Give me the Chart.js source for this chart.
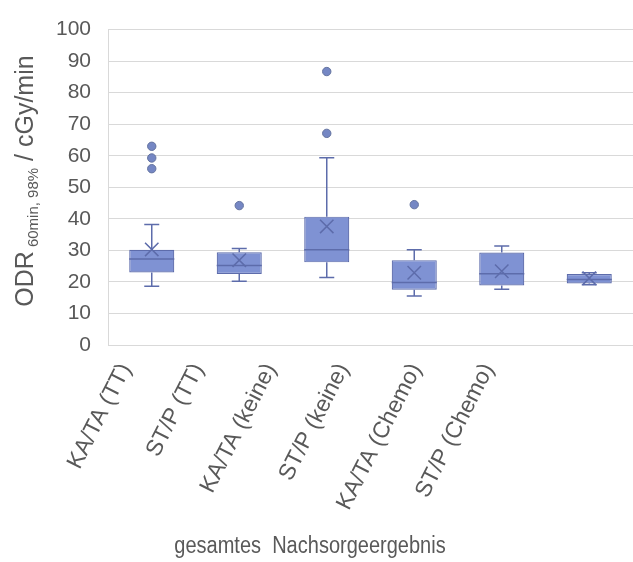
<!DOCTYPE html>
<html>
<head>
<meta charset="utf-8">
<script src="https://cdn.jsdelivr.net/npm/chart.js@4.4.1/dist/chart.umd.min.js"></script>
<style>
  html, body { margin: 0; padding: 0; background: #ffffff; overflow: hidden; width: 633px; height: 562px; }
  canvas { display: block; }
</style>
</head>
<body>
<canvas id="chart" width="644" height="562"></canvas>
<script>
// Box-plot statistics per follow-up group (ODR in cGy/min)
const categories   = ['KA/TA (TT)', 'ST/P (TT)', 'KA/TA (keine)', 'ST/P (keine)', 'KA/TA (Chemo)', 'ST/P (Chemo)'];
const whiskerLow   = [18.6, 20.2, 21.4, 15.5, 17.7, 19.1];
const q1           = [23.0, 22.5, 26.2, 17.5, 18.9, 19.5];
const median       = [27.3, 25.2, 30.2, 19.8, 22.6, 20.8];
const q3           = [30.2, 29.4, 40.7, 26.9, 29.3, 22.5];
const whiskerHigh  = [38.2, 30.6, 59.4, 30.2, 31.4, 22.9];
const mean         = [30.3, 26.9, 37.6, 22.9, 23.4, 21.2];
const outliers     = [[63.0, 59.3, 55.9], [44.2], [86.7, 67.1], [44.5], [], []];

const yMin = 0, yMax = 100, yStep = 10;
const xTitle = 'gesamtes  Nachsorgeergebnis';
const yTitleMain = 'ODR';
const yTitleSub = '60min, 98%';
const yTitleUnit = ' / cGy/min';

const textColor = '#595959';
const boxFill = '#7f92d3';
const lineColor = '#5d6cab';
const fontFamily = '"Liberation Sans", Arial, sans-serif';

const boxData = categories.map((c, i) => [q1[i], q3[i]]);
const meanData = categories.map((c, i) => ({ x: c, y: mean[i] }));
const outlierData = [];
categories.forEach((c, i) => outliers[i].forEach(v => outlierData.push({ x: c, y: v })));

// Whiskers and median lines, drawn over the boxes
const boxLines = {
  id: 'boxLines',
  afterDatasetDraw(chart, args) {
    if (args.index !== 0) return;
    const { ctx, scales: { x, y } } = chart;
    const meta = chart.getDatasetMeta(0);
    ctx.save();
    ctx.strokeStyle = lineColor;
    ctx.lineWidth = 1.5;
    categories.forEach((c, i) => {
      const cx = x.getPixelForValue(i);
      const half = meta.data[i].width / 2;
      const cap = 7.5;
      const yMed = y.getPixelForValue(median[i]);
      const yQ1 = y.getPixelForValue(q1[i]);
      const yQ3 = y.getPixelForValue(q3[i]);
      const yLo = y.getPixelForValue(whiskerLow[i]);
      const yHi = y.getPixelForValue(whiskerHigh[i]);
      ctx.beginPath();
      ctx.moveTo(cx - half, yMed); ctx.lineTo(cx + half, yMed);
      ctx.moveTo(cx, yQ3); ctx.lineTo(cx, yHi);
      ctx.moveTo(cx - cap, yHi); ctx.lineTo(cx + cap, yHi);
      ctx.moveTo(cx, yQ1); ctx.lineTo(cx, yLo);
      ctx.moveTo(cx - cap, yLo); ctx.lineTo(cx + cap, yLo);
      ctx.stroke();
    });
    ctx.restore();
  }
};

// Axis titles: rotated y title with subscript, condensed x title
const axisTitles = {
  id: 'axisTitles',
  afterDraw(chart) {
    const { ctx } = chart;
    const big = '25px ' + fontFamily;
    const small = '15px ' + fontFamily;
    ctx.save();
    ctx.fillStyle = textColor;
    ctx.textAlign = 'left';
    ctx.textBaseline = 'alphabetic';
    ctx.font = big;
    const wMain = ctx.measureText(yTitleMain).width;
    const wUnit = ctx.measureText(yTitleUnit).width;
    ctx.font = small;
    const gap = 4;
    const wSub = ctx.measureText(yTitleSub).width;
    const total = wMain + gap + wSub + wUnit;
    ctx.translate(33, 181);
    ctx.rotate(-Math.PI / 2);
    let px = -total / 2;
    ctx.font = big;
    ctx.fillText(yTitleMain, px, 0);
    px += wMain + gap;
    ctx.font = small;
    ctx.fillText(yTitleSub, px, 5);
    px += wSub;
    ctx.font = big;
    ctx.fillText(yTitleUnit, px, 0);
    ctx.restore();

    ctx.save();
    ctx.fillStyle = textColor;
    ctx.font = '23px ' + fontFamily;
    ctx.textAlign = 'center';
    ctx.textBaseline = 'alphabetic';
    ctx.translate(310, 553);
    ctx.scale(0.87, 1);
    ctx.fillText(xTitle, 0, 0);
    ctx.restore();
  }
};

new Chart(document.getElementById('chart'), {
  type: 'bar',
  data: {
    labels: categories,
    datasets: [
      {
        type: 'bar',
        data: boxData,
        backgroundColor: boxFill,
        borderColor: lineColor,
        borderWidth: 1.2,
        borderSkipped: false,
        categoryPercentage: 1,
        barPercentage: 0.515,
        order: 3
      },
      {
        type: 'line',
        data: meanData,
        showLine: false,
        pointStyle: 'crossRot',
        pointRadius: 9.5,
        pointBorderWidth: 1.5,
        pointBorderColor: lineColor,
        pointBackgroundColor: lineColor,
        order: 2
      },
      {
        type: 'line',
        data: outlierData,
        showLine: false,
        pointStyle: 'circle',
        pointRadius: 4.2,
        pointBorderWidth: 1,
        pointBorderColor: '#64739f',
        pointBackgroundColor: '#7587c4',
        order: 1
      }
    ]
  },
  options: {
    responsive: false,
    animation: false,
    events: [],
    layout: { padding: { top: 21, right: 1, left: 0, bottom: 0 } },
    plugins: { legend: { display: false }, tooltip: { enabled: false } },
    scales: {
      x: {
        display: false,
        offset: true
      },
      // category names, set on a slightly narrower run than the boxes
      xLabels: {
        type: 'linear',
        position: 'bottom',
        offset: false,
        min: -0.245,
        max: 6.99,
        grid: { display: false, offset: false },
        border: { display: false },
        afterBuildTicks(scale) { scale.ticks = categories.map((c, i) => ({ value: i })); },
        ticks: {
          autoSkip: false,
          color: textColor,
          font: { family: fontFamily, size: 23 },
          minRotation: 63,
          maxRotation: 63,
          padding: 6,
          callback: (v) => categories[v] ?? ''
        },
        afterFit(scale) { scale.height = 217; }
      },
      y: {
        min: yMin,
        max: yMax,
        grid: { color: '#d9d9d9', lineWidth: 1, drawTicks: false },
        border: { display: true, color: '#d9d9d9' },
        ticks: {
          stepSize: yStep,
          color: textColor,
          font: { family: fontFamily, size: 21 },
          padding: 17
        },
        afterFit(scale) { scale.width = 108; }
      }
    }
  },
  plugins: [boxLines, axisTitles]
});
</script>
</body>
</html>
